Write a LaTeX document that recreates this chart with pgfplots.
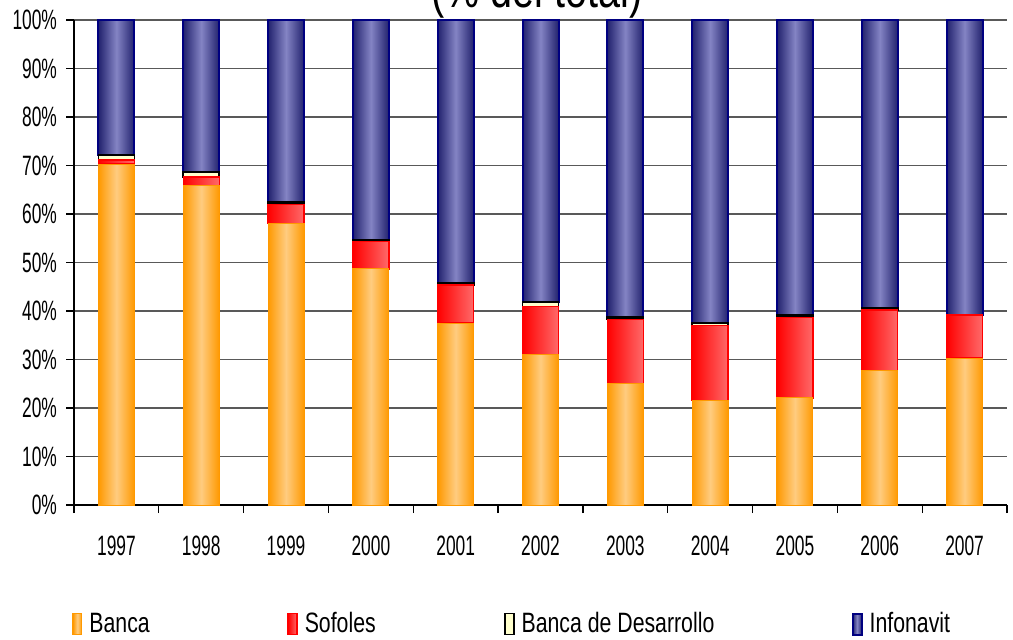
\documentclass[border=0pt]{standalone}
\usepackage{fontspec}
\setmainfont{Liberation Sans}
\newfontfamily\tickfont[FakeStretch=0.62]{Liberation Sans}
\newfontfamily\legfont[FakeStretch=0.76]{Liberation Sans}
\usepackage{pgfplots}
\pgfplotsset{compat=1.18}
\usepackage{pgfplotstable}

\definecolor{bancaO}{HTML}{FF9900}
\definecolor{bancaL}{HTML}{FFCC80}
\definecolor{sofR}{HTML}{FF0000}
\definecolor{sofL}{HTML}{FF6A6A}
\definecolor{bdY}{HTML}{FFFFCC}
\definecolor{infD}{HTML}{000080}
\definecolor{infL}{HTML}{8484C4}
\definecolor{infE}{HTML}{22226E}

% segment styles (each bar segment gets its own horizontal gradient)
\tikzset{
  segBanca/.style={draw=bancaO, line width=0.5pt, left color=bancaO, right color=bancaO, middle color=bancaL},
  segSof/.style={draw=sofR, line width=0.7pt, left color=sofR, right color=sofL},
  segBD/.style={draw=black, line width=0.9pt, fill=bdY},
  segInf/.style={draw=infD, line width=1pt, left color=infE, right color=infE, middle color=infL},
}
% an empty plot mark: the segment itself is drawn by the scatter code
\pgfdeclareplotmark{blank}{}
% one stacked segment, hanging down from its stacked top value
% (2.425pt per percentage point on the 242.5pt tall axis, bars 18pt wide)
\newcommand\segbar[1]{%
  \pgfmathsetmacro\segH{\segval*2.425}%
  \path[#1] (-9pt,-\segH pt) rectangle (9pt,0pt);}

\pgfplotsset{
  seg/.style={scatter, only marks, mark=blank,
    visualization depends on={rawy \as \segval},
    scatter/@pre marker code/.code={\segbar{#1}},
    scatter/@post marker code/.code={},
    legend image code/.code={\path[#1] (0pt,-5.25pt) rectangle (4.5pt,5.25pt);}},
}

% share of housing credit by lender, percent of total
\pgfplotstableread{
x  Banca Sofoles BD  Infonavit
0  70.3  0.8     1.0 27.9
1  65.8  1.8     1.0 31.4
2  58.0  4.0     0.4 37.6
3  48.7  5.6     0.4 45.3
4  37.5  7.9     0.4 54.2
5  31.0  9.9     1.0 58.1
6  25.0  13.3    0.4 61.3
7  21.6  15.4    0.5 62.5
8  22.1  16.6    0.5 60.8
9  27.7  12.5    0.5 59.3
10 30.3  8.9     0.0 60.8
}\datos

\begin{document}
\begin{tikzpicture}
\begin{axis}[
  at={(0pt,0pt)}, anchor=south west,
  scale only axis, width=466.5pt, height=242.5pt,
  xmin=-0.5, xmax=10.5, ymin=0, ymax=100,
  stack plots=y,
  axis lines*=left,
  axis line style={black, line width=0.6pt},
  xtick={-0.5,0.5,...,10.5},
  x tick label as interval,
  xticklabels={1997,1998,1999,2000,2001,2002,2003,2004,2005,2006,2007},
  ytick={0,10,...,100},
  yticklabels={0\%,10\%,20\%,30\%,40\%,50\%,60\%,70\%,80\%,90\%,100\%},
  tick align=outside,
  major tick length=4pt,
  tick style={black, line width=0.6pt},
  ymajorgrids, xmajorgrids=false,
  major grid style={black!65, line width=0.6pt},
  ticklabel style={font=\tickfont\fontsize{14}{16}\selectfont},
  xticklabel style={yshift=-8pt},
  yticklabel style={xshift=-1pt},
  legend columns=4,
  legend style={at={(0,0)}, anchor=west, xshift=-1pt, yshift=-59.5pt,
    draw=none, fill=none, inner sep=0pt,
    font=\legfont\fontsize{14}{16}\selectfont,
    nodes={inner sep=0pt},
    /tikz/every odd column/.append style={column sep=3.5pt}},
]
\addplot[seg=segBanca] table[x=x, y=Banca]{\datos};
\addplot[seg=segSof]   table[x=x, y=Sofoles]{\datos};
\addplot[seg=segBD]    table[x=x, y=BD]{\datos};
\addplot[seg=segInf]   table[x=x, y=Infonavit]{\datos};
\legend{\makebox[99pt][l]{Banca},\makebox[99.5pt][l]{Sofoles},\makebox[165pt][l]{Banca de Desarrollo},Infonavit}
\end{axis}
\node[anchor=base, font=\legfont\fontsize{26}{28}\selectfont] at (231.5pt,249pt) {(\% del total)};
\pgfresetboundingbox
\useasboundingbox (-37pt,-67pt) rectangle (469.5pt,252.5pt);
\end{tikzpicture}
\end{document}
